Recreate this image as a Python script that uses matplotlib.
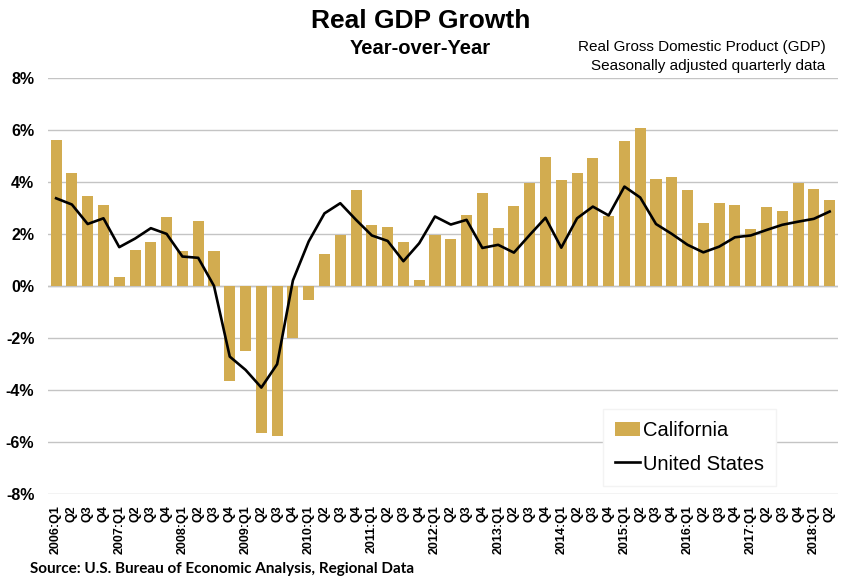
import numpy as np
import matplotlib.pyplot as plt
from matplotlib.ticker import FuncFormatter

years = list(range(2006, 2019))
quarters = []
for y in years:
    for q in range(1, 5):
        if y == 2018 and q > 2:
            break
        quarters.append(f"{y}:Q{q}" if q == 1 else f"Q{q}")

california = [5.62, 4.33, 3.44, 3.13, 0.35, 1.38, 1.67, 2.64, 1.33, 2.51, 1.35, -3.67,
              -2.49, -5.67, -5.79, -1.99, -0.56, 1.23, 1.94, 3.68, 2.33, 2.28, 1.68, 0.23,
              1.94, 1.82, 2.74, 3.59, 2.23, 3.06, 3.94, 4.95, 4.09, 4.36, 4.91, 2.68,
              5.59, 6.06, 4.10, 4.19, 3.69, 2.42, 3.18, 3.13, 2.17, 3.05, 2.90, 3.94,
              3.71, 3.31]
united_states = [3.37, 3.13, 2.38, 2.60, 1.49, 1.82, 2.22, 2.00, 1.13, 1.08, 0.00, -2.72,
                 -3.23, -3.91, -3.01, 0.21, 1.71, 2.79, 3.18, 2.54, 1.94, 1.73, 0.95, 1.64,
                 2.67, 2.36, 2.54, 1.46, 1.58, 1.28, 1.96, 2.62, 1.47, 2.60, 3.05, 2.71,
                 3.82, 3.40, 2.38, 2.00, 1.58, 1.29, 1.51, 1.87, 1.94, 2.15, 2.35, 2.47,
                 2.58, 2.86]

plt.rcParams['font.family'] = ['Liberation Sans', 'DejaVu Sans']

fig = plt.figure(figsize=(8.46, 5.77), dpi=100)
ax = fig.add_axes([0.057, 0.144, 0.933, 0.721])

x = np.arange(len(quarters))
bars = ax.bar(x, california, width=0.7, color='#D2AC50', label='California', zorder=2)
line, = ax.plot(x, united_states, color='black', linewidth=1.9, label='United States', zorder=3)

ax.set_xlim(-0.5, len(quarters) - 0.5)
ax.set_ylim(-8, 8)
ax.set_yticks(np.arange(-8, 9, 2))
ax.yaxis.set_major_formatter(FuncFormatter(lambda v, p: f"{v:.0f}%"))
ax.grid(axis='y', color='#c4c4c4', linewidth=1.0, zorder=0)
ax.axhline(0, color='#c4c4c4', linewidth=1.0, zorder=1)
ax.set_xticks(x)
ax.set_xticklabels(quarters, rotation=90, fontsize=9, fontweight='bold')
for lbl in ax.get_yticklabels():
    lbl.set_fontweight('bold')
    lbl.set_fontsize(11.5)
ax.tick_params(axis='both', length=0)
ax.tick_params(axis='x', pad=8)
ax.tick_params(axis='y', pad=10)
for s in ax.spines.values():
    s.set_visible(False)

leg = ax.legend([bars, line], ['California', 'United States'], loc='lower right',
                bbox_to_anchor=(0.922, 0.02), borderaxespad=0, fontsize=14.5,
                frameon=True, fancybox=False, edgecolor='#f3f3f3', framealpha=1,
                handlelength=1.25, handletextpad=0.15, borderpad=0.6, labelspacing=0.7)

fig.text(0.497, 0.963, 'Real GDP Growth', ha='center', va='center',
         fontsize=19, fontweight='bold')
fig.text(0.497, 0.916, 'Year-over-Year', ha='center', va='center',
         fontsize=14.5, fontweight='bold')
fig.text(0.976, 0.918, 'Real Gross Domestic Product (GDP)', ha='right', va='center',
         fontsize=11)
fig.text(0.976, 0.885, 'Seasonally adjusted quarterly data', ha='right', va='center',
         fontsize=11)
fig.text(0.035, 0.013, 'Source: U.S. Bureau of Economic Analysis, Regional Data',
         ha='left', va='center', fontsize=11, fontweight='bold', family='Lato')

fig.savefig('out.png', dpi=100)
